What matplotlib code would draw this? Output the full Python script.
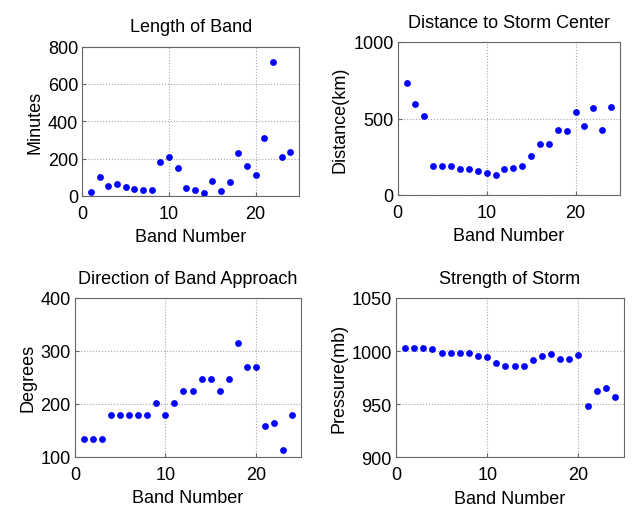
import matplotlib
matplotlib.use("Agg")
import matplotlib.pyplot as plt

plt.rcParams['font.family'] = ['Liberation Sans', 'DejaVu Sans']
plt.rcParams['font.size'] = 13

band = list(range(1, 25))
length_min = [21, 101, 55, 62, 50, 37, 32, 32, 184, 211, 150, 41, 32, 18, 81, 28, 76, 232, 159, 110, 310, 717, 209, 237]
distance_km = [730, 598, 515, 189, 189, 189, 167, 167, 154, 141, 133, 170, 178, 189, 257, 335, 335, 426, 420, 541, 452, 567, 426, 572]
direction_deg = [134, 134, 134, 179, 179, 179, 179, 179, 201, 179, 201, 225, 225, 247, 247, 225, 247, 314, 270, 270, 158, 164, 112, 179]
pressure_mb = [1002.8, 1002.8, 1002.8, 1001.6, 997.8, 997.8, 997.8, 997.8, 995, 994, 989, 985.6, 985.6, 985.6, 991.9, 995, 996.9, 992.8, 992.8, 996.6, 948.4, 962.2, 965, 957.2]

titles = ["Length of Band", "Distance to Storm Center", "Direction of Band Approach", "Strength of Storm"]
ylabels = ["Minutes", "Distance(km)", "Degrees", "Pressure(mb)"]
series = [length_min, distance_km, direction_deg, pressure_mb]
ylims = [(0, 800), (0, 1000), (100, 400), (900, 1050)]
yticks = [[0, 200, 400, 600, 800], [0, 500, 1000], [100, 200, 300, 400], [900, 950, 1000, 1050]]

W, H = 633, 510
fig = plt.figure(figsize=(W / 100, H / 100), dpi=100)
# axes boxes in pixel coords: left, right, top, bottom
boxes = [(82.3, 299, 47.5, 197), (397.7, 620, 43, 196),
         (75, 301, 299, 457.7), (396, 624, 299, 458.3)]

for i in range(4):
    l, r, t, b = boxes[i]
    ax = fig.add_axes([l / W, 1 - b / H, (r - l) / W, (b - t) / H])
    ax.plot(band, series[i], linestyle='none', marker='o', markersize=4.9,
            color='#0000ff', markeredgewidth=0)
    ax.set_xlim(0, 25)
    ax.set_xticks([0, 10, 20])
    ax.set_ylim(*ylims[i])
    ax.set_yticks(yticks[i])
    ax.grid(True, linestyle=':', color='#a8a8a8', linewidth=0.8)
    ax.set_axisbelow(True)
    for s in ax.spines.values():
        s.set_color('#666666')
        s.set_linewidth(0.8)
    ax.tick_params(direction='in', length=3, color='#666666', labelsize=13)
    ax.tick_params(axis='x', pad=6.5)
    ax.tick_params(axis='y', pad=3)
    ax.set_title(titles[i], fontsize=13, pad=11)
    ax.set_xlabel("Band Number", fontsize=13, labelpad=4.5)
    ax.set_ylabel(ylabels[i], fontsize=13, labelpad=3)

fig.savefig("out.png", dpi=100, facecolor='white')
